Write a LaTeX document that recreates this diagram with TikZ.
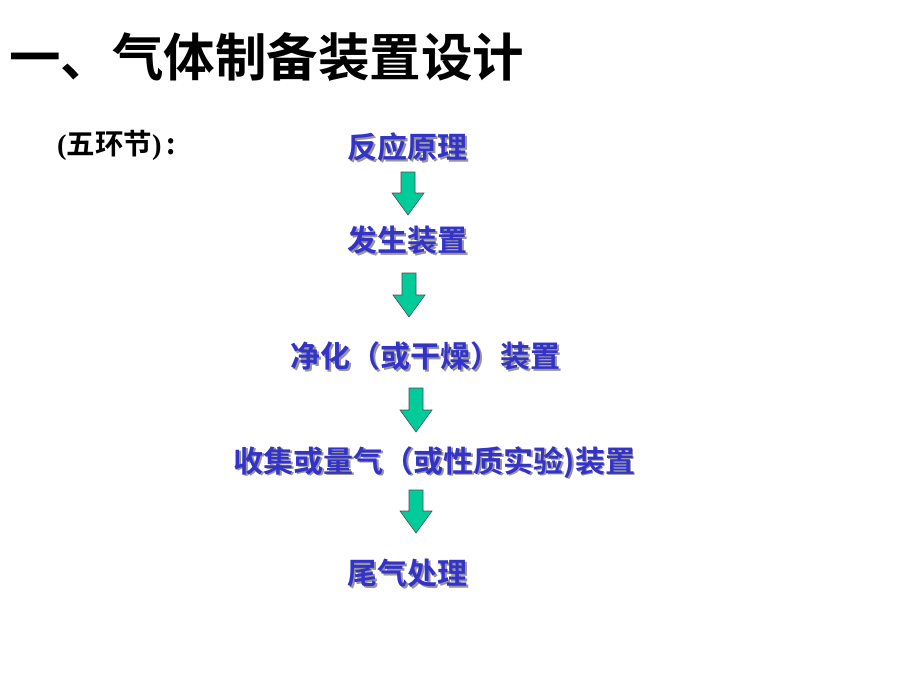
\documentclass[tikz,border=0pt]{standalone}
\usepackage{fontspec}
\setmainfont{Liberation Serif}
\newfontfamily\cjk{Noto Sans CJK SC}[BoldFont={Noto Sans CJK SC Bold}]
\definecolor{stepblue}{RGB}{51,51,204}
\definecolor{arrgreen}{RGB}{0,204,153}
\definecolor{shadowgray}{RGB}{150,150,150}
\newcommand{\shd}[1]{\rlap{\kern1.8pt\raisebox{-1.8pt}{\textcolor{shadowgray}{#1}}}#1}

\begin{document}
\begin{tikzpicture}[x=1pt,y=-1pt]
	\tikzset{stage/.style={inner sep=0pt,text=stepblue,font=\cjk\bfseries\fontsize{30}{36}\selectfont},
		down/.style={draw=black!70,fill=arrgreen,line width=0.6pt,line join=miter}}
	\useasboundingbox (0,0) rectangle (920,690);
	\node[anchor=west,inner sep=0pt,font=\cjk\bfseries\fontsize{51.5}{60}\selectfont] (title) at (9,57) {一、气体制备装置设计};
	\node[anchor=west,inner sep=0pt,font=\bfseries\fontsize{28.5}{33}\selectfont] (five) at (57,145) {({\cjk 五环节})\,{\cjk :}};
	\node[stage] (s1) at (407.5,148) {\shd{反应原理}};
	\node[stage] (s2) at (407.5,241) {\shd{发生装置}};
	\node[stage] (s3) at (425.5,357) {\shd{净化（或干燥）装置}};
	\node[stage] (s4) at (434.5,463) {\shd{收集或量气（或性质实验)装置}};
	\node[stage] (s5) at (407.5,574) {\shd{尾气处理}};
	% block arrows: centre x, top y, tip y
	\foreach \x/\t/\b in {408/172/215, 409/273/317, 416/388/432, 416/490/533}
		\draw[down] (\x-7,\t) -- (\x+7,\t) -- (\x+7,\b-22) -- (\x+16,\b-22) -- (\x,\b)
			-- (\x-16,\b-22) -- (\x-7,\b-22) -- cycle;
\end{tikzpicture}
\end{document}
